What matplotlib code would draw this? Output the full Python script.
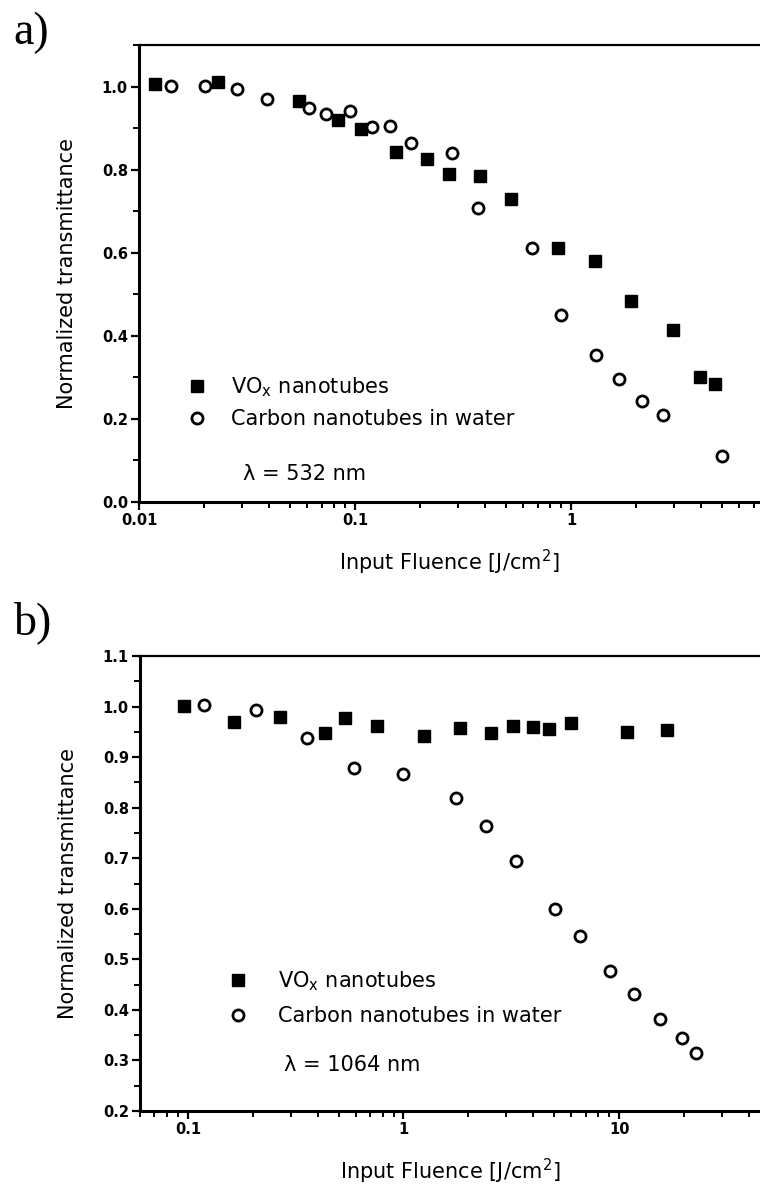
import matplotlib.pyplot as plt
from matplotlib.ticker import FixedLocator, FixedFormatter, LogLocator, MultipleLocator, NullFormatter
from matplotlib.lines import Line2D

plt.rcParams['font.family'] = ['DejaVu Sans']
plt.rcParams['mathtext.fontset'] = 'dejavusans'

# panel a) 532 nm
vox_a_x = [0.0119, 0.0232, 0.0551, 0.0834, 0.107, 0.155, 0.215, 0.272, 0.379, 0.528,
           0.871, 1.29, 1.90, 2.97, 3.95, 4.64]
vox_a_y = [1.005, 1.012, 0.966, 0.920, 0.899, 0.843, 0.826, 0.790, 0.785, 0.729,
           0.611, 0.580, 0.483, 0.413, 0.300, 0.283]
cnt_a_x = [0.0141, 0.0202, 0.0284, 0.0391, 0.0612, 0.0734, 0.0948, 0.120, 0.145, 0.182,
           0.281, 0.371, 0.659, 0.899, 1.31, 1.67, 2.13, 2.67, 5.0]
cnt_a_y = [1.002, 1.002, 0.995, 0.971, 0.949, 0.935, 0.940, 0.903, 0.906, 0.865,
           0.841, 0.708, 0.611, 0.449, 0.353, 0.295, 0.242, 0.210, 0.111]

# panel b) 1064 nm
vox_b_x = [0.096, 0.164, 0.268, 0.434, 0.537, 0.757, 1.24, 1.82, 2.54, 3.21, 3.98, 4.72,
           5.98, 10.9, 16.7]
vox_b_y = [1.001, 0.970, 0.979, 0.948, 0.977, 0.962, 0.942, 0.958, 0.948, 0.962, 0.960,
           0.956, 0.968, 0.950, 0.954]
cnt_b_x = [0.119, 0.207, 0.357, 0.591, 1.0, 1.75, 2.41, 3.32, 5.04, 6.59, 9.08, 11.7,
           15.5, 19.6, 22.8]
cnt_b_y = [1.003, 0.993, 0.938, 0.879, 0.867, 0.819, 0.764, 0.695, 0.600, 0.546, 0.477,
           0.431, 0.382, 0.344, 0.315]

xticks_a = [0.01, 0.1, 1]
xticklabels_a = ['0.01', '0.1', '1']
yticks_a = [0.0, 0.2, 0.4, 0.6, 0.8, 1.0]
yticklabels_a = ['0.0', '0.2', '0.4', '0.6', '0.8', '1.0']
xticks_b = [0.1, 1, 10]
xticklabels_b = ['0.1', '1', '10']
yticks_b = [0.2, 0.3, 0.4, 0.5, 0.6, 0.7, 0.8, 0.9, 1.0, 1.1]
yticklabels_b = ['0.2', '0.3', '0.4', '0.5', '0.6', '0.7', '0.8', '0.9', '1.0', '1.1']

label_vox = r'VO$_{\mathregular{x}}$ nanotubes'
label_cnt = 'Carbon nanotubes in water'
xlabel = r'Input Fluence [J/cm$^{\mathregular{2}}$]'
ylabel = 'Normalized transmittance'

fig = plt.figure(figsize=(7.6, 11.84), dpi=100)
ax1 = fig.add_axes([139 / 760, 1 - 502 / 1184, 621 / 760, 457 / 1184])
ax2 = fig.add_axes([140 / 760, 1 - 1111 / 1184, 620 / 760, 455 / 1184])


def style(ax, xt, xtl, yt, ytl, ymin_step):
    ax.set_xscale('log')
    ax.spines['right'].set_visible(False)
    ax.spines['left'].set_linewidth(2.2)
    ax.spines['bottom'].set_linewidth(2.2)
    ax.spines['top'].set_linewidth(1.6)
    ax.xaxis.set_major_locator(FixedLocator(xt))
    ax.xaxis.set_major_formatter(FixedFormatter(xtl))
    ax.xaxis.set_minor_locator(LogLocator(base=10, subs=range(2, 10)))
    ax.xaxis.set_minor_formatter(NullFormatter())
    ax.yaxis.set_major_locator(FixedLocator(yt))
    ax.yaxis.set_major_formatter(FixedFormatter(ytl))
    ax.yaxis.set_minor_locator(MultipleLocator(ymin_step))
    ax.tick_params(which='major', direction='out', length=6, width=1.6, pad=2,
                   labelsize=10.5, top=False, right=False)
    ax.tick_params(which='minor', direction='out', length=4, width=1.4,
                   top=False, right=False)
    for t in ax.get_xticklabels() + ax.get_yticklabels():
        t.set_fontweight('bold')
    ax.set_xlabel(xlabel, fontsize=15)
    ax.set_ylabel(ylabel, fontsize=15)
    ax.xaxis.set_label_coords(0.5, -0.1)
    ax.yaxis.set_label_coords(-0.1, 0.5)


# a)
ax1.plot(vox_a_x, vox_a_y, 's', color='black', ms=9, ls='none')
ax1.plot(cnt_a_x, cnt_a_y, 'o', mfc='white', mec='black', mew=2, ms=8, ls='none')
ax1.set_xlim(0.01, 7.5)
ax1.set_ylim(0.0, 1.1)
style(ax1, xticks_a, xticklabels_a, yticks_a, yticklabels_a, 0.1)

handles = [Line2D([], [], marker='s', color='black', ms=9, ls='none'),
           Line2D([], [], marker='o', mfc='white', mec='black', mew=2, ms=8, ls='none')]
ax1.legend(handles, [label_vox, label_cnt], loc='lower left', bbox_to_anchor=(0.03, 0.118),
           frameon=False, fontsize=15, handletextpad=0.6, labelspacing=0.5)
ax1.text(0.168, 0.048, 'λ = 532 nm', transform=ax1.transAxes, fontsize=15)

# b)
ax2.plot(vox_b_x, vox_b_y, 's', color='black', ms=9, ls='none')
ax2.plot(cnt_b_x, cnt_b_y, 'o', mfc='white', mec='black', mew=2, ms=8, ls='none')
ax2.set_xlim(0.06, 45)
ax2.set_ylim(0.2, 1.1)
style(ax2, xticks_b, xticklabels_b, yticks_b, yticklabels_b, 0.05)

ax2.legend(handles, [label_vox, label_cnt], loc='lower left', bbox_to_anchor=(0.094, 0.145),
           frameon=False, fontsize=15, handletextpad=0.94, labelspacing=0.64)
ax2.text(0.233, 0.087, 'λ = 1064 nm', transform=ax2.transAxes, fontsize=15)

fig.text(0.018, 0.990, 'a)', fontsize=33, family='Liberation Serif', va='top')
fig.text(0.018, 0.492, 'b)', fontsize=33, family='Liberation Serif', va='top')

fig.savefig('out.png', dpi=100)
